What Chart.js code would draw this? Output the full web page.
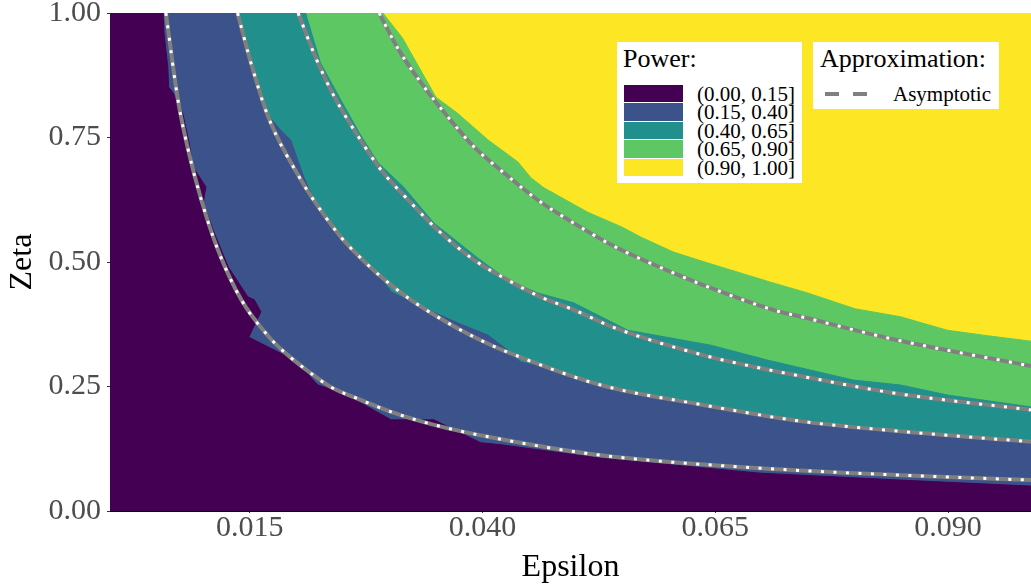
<!DOCTYPE html>
<html lang="en">
<head>
<meta charset="utf-8">
<title>Power by Epsilon and Zeta</title>
<script src="https://cdn.jsdelivr.net/npm/chart.js@4.4.1/dist/chart.umd.min.js"></script>
<style>
  html, body { margin: 0; padding: 0; background: #fff; }
  #wrap { position: relative; width: 1031px; height: 584px; }
  canvas { display: block; }
  .box { position: absolute; background: #fff; font-family: "Liberation Serif", "Times New Roman", serif; color: #000; }
  .box .ttl { position: absolute; left: 6px; top: 4px; font-size: 26px; line-height: 26px; white-space: nowrap; }
  .key { position: absolute; left: 7px; width: 59px; height: 17.4px; }
  .lbl { position: absolute; left: 80px; font-size: 21px; line-height: 18.4px; white-space: nowrap; }
  #powerBox { left: 617px; top: 42px; width: 185px; height: 141px; }
  #approxBox { left: 813px; top: 42px; width: 186px; height: 67px; }
  .dash { position: absolute; left: 12px; top: 50px; width: 42px; height: 3.5px;
          background: repeating-linear-gradient(to right, #808080 0 14px, transparent 14px 28px); }
</style>
</head>
<body>
<div id="wrap">
  <canvas id="chart"></canvas>
  <div class="box" id="powerBox"><div class="ttl">Power:</div></div>
  <div class="box" id="approxBox">
    <div class="ttl" style="left:7px">Approximation:</div>
    <div class="dash"></div>
    <div class="lbl" style="top:43px">Asymptotic</div>
  </div>
</div>
<script>
// ---- data: [epsilon, zeta] ----
const xTicks = [0.015, 0.040, 0.065, 0.090];
const yTicks = [0, 0.25, 0.5, 0.75, 1];
const powerLabels = ["(0.00, 0.15]", "(0.15, 0.40]", "(0.40, 0.65]", "(0.65, 0.90]", "(0.90, 1.00]"];
const powerColors = ["#440154", "#3B528B", "#21908C", "#5DC863", "#FDE725"];

// upper edge of each filled band (band below the edge gets the colour)
const band015 = [[0, 1], [0.0057, 1], [0.0058, 0.960], [0.0062, 0.892], [0.0063, 0.851], [0.0068, 0.839],
  [0.0078, 0.799], [0.0085, 0.739], [0.0089, 0.691], [0.0103, 0.651], [0.0100, 0.618], [0.0112, 0.558],
  [0.0127, 0.490], [0.0148, 0.430], [0.0155, 0.424], [0.0162, 0.400], [0.0149, 0.349], [0.0183, 0.317],
  [0.0202, 0.297], [0.0223, 0.253], [0.0248, 0.239], [0.0277, 0.209], [0.0302, 0.183], [0.0348, 0.183],
  [0.0398, 0.137], [0.0420, 0.133], [0.0527, 0.106], [0.0698, 0.076], [0.0849, 0.062], [0.0989, 0.050]];
const band040 = [[0, 1], [0.0138, 1], [0.0150, 0.905], [0.0165, 0.805], [0.0183, 0.765], [0.0194, 0.745],
  [0.0208, 0.671], [0.0219, 0.625], [0.0237, 0.574], [0.0259, 0.530], [0.0288, 0.474], [0.0302, 0.440],
  [0.0337, 0.408], [0.0373, 0.378], [0.0406, 0.353], [0.0427, 0.323], [0.0441, 0.299], [0.0467, 0.289],
  [0.0527, 0.249], [0.0637, 0.209], [0.0698, 0.193], [0.0849, 0.157], [0.0989, 0.137]];
const band065 = [[0, 1], [0.0210, 1], [0.0226, 0.900], [0.0248, 0.825], [0.0269, 0.755], [0.0288, 0.699],
  [0.0315, 0.651], [0.0348, 0.578], [0.0395, 0.508], [0.0427, 0.464], [0.0459, 0.438], [0.0498, 0.418],
  [0.0556, 0.363], [0.0645, 0.333], [0.0706, 0.303], [0.0798, 0.263], [0.0849, 0.253], [0.0899, 0.233],
  [0.0989, 0.209]];
const band090 = [[0, 1], [0.0293, 1], [0.0314, 0.950], [0.0350, 0.831], [0.0373, 0.799], [0.0406, 0.745],
  [0.0438, 0.701], [0.0452, 0.669], [0.0466, 0.649], [0.0513, 0.600], [0.0550, 0.570], [0.0570, 0.550],
  [0.0605, 0.520], [0.0642, 0.498], [0.0712, 0.458], [0.0749, 0.438], [0.0800, 0.406], [0.0849, 0.390],
  [0.0899, 0.363], [0.0938, 0.353], [0.0989, 0.341]];

// asymptotic approximation curves
const asym015 = [[0.0060, 1], [0.0073, 0.825], [0.0084, 0.725], [0.0098, 0.625], [0.0116, 0.524],
  [0.0141, 0.424], [0.0170, 0.351], [0.0191, 0.313], [0.0214, 0.279], [0.0237, 0.249], [0.0264, 0.227],
  [0.0305, 0.197], [0.0348, 0.173], [0.0406, 0.149], [0.0527, 0.112], [0.0698, 0.086], [0.0849, 0.072],
  [0.0989, 0.062]];
const asym040 = [[0.0137, 1], [0.0151, 0.902], [0.0170, 0.791], [0.0205, 0.665], [0.0221, 0.618],
  [0.0248, 0.550], [0.0277, 0.494], [0.0299, 0.458], [0.0323, 0.424], [0.0348, 0.394], [0.0373, 0.367],
  [0.0398, 0.343], [0.0427, 0.319], [0.0527, 0.253], [0.0637, 0.213], [0.0747, 0.179], [0.0855, 0.159],
  [0.0989, 0.139]];
const asym065 = [[0.0202, 1], [0.0221, 0.910], [0.0240, 0.835], [0.0269, 0.745], [0.0291, 0.685],
  [0.0320, 0.625], [0.0352, 0.564], [0.0391, 0.504], [0.0427, 0.464], [0.0462, 0.430], [0.0498, 0.404],
  [0.0543, 0.367], [0.0637, 0.313], [0.0698, 0.287], [0.0747, 0.269], [0.0841, 0.237], [0.0989, 0.203]];
const asym090 = [[0.0289, 1], [0.0310, 0.926], [0.0336, 0.855], [0.0363, 0.791], [0.0391, 0.731],
  [0.0423, 0.679], [0.0459, 0.625], [0.0498, 0.578], [0.0545, 0.528], [0.0605, 0.478], [0.0642, 0.450],
  [0.0712, 0.404], [0.0747, 0.388], [0.0841, 0.345], [0.0989, 0.291]];

const SERIF = '"Liberation Serif", "Times New Roman", serif';
const pts = arr => arr.map(([x, y]) => ({ x, y }));

function bandDataset(points, color, order) {
  return {
    data: pts(points), fill: "start", backgroundColor: color,
    borderColor: color, borderWidth: 1, pointRadius: 0, tension: 0, order, clip: 0,
  };
}

function asymDatasets(points) {
  return [
    { data: pts(points), borderColor: "#808080", borderWidth: 4, pointRadius: 0, fill: false,
      cubicInterpolationMode: "monotone", order: 2, clip: 0 },
    { data: pts(points), borderColor: "#ffffff", borderWidth: 3, borderDash: [3, 9.5], pointRadius: 0,
      fill: false, cubicInterpolationMode: "monotone", order: 1, clip: 0 },
  ];
}

// yellow top band = plot background
const areaFill = {
  id: "areaFill",
  beforeDatasetsDraw(chart) {
    const { ctx, chartArea: a } = chart;
    ctx.save();
    ctx.fillStyle = powerColors[4];
    ctx.fillRect(a.left, a.top, a.width, a.height);
    ctx.restore();
  },
};

new Chart(document.getElementById("chart"), {
  type: "line",
  data: {
    datasets: [
      bandDataset(band090, powerColors[3], 9),
      bandDataset(band065, powerColors[2], 8),
      bandDataset(band040, powerColors[1], 7),
      bandDataset(band015, powerColors[0], 6),
      ...asymDatasets(asym015),
      ...asymDatasets(asym040),
      ...asymDatasets(asym065),
      ...asymDatasets(asym090),
    ],
  },
  options: {
    responsive: true,
    maintainAspectRatio: false,
    animation: false,
    events: [],
    layout: { padding: { top: 13, left: 0, right: 0, bottom: 0 } },
    plugins: { legend: { display: false }, tooltip: { enabled: false } },
    scales: {
      x: {
        type: "linear", min: 0, max: 0.0989,
        afterBuildTicks: s => { s.ticks = xTicks.map(v => ({ value: v })); },
        afterFit: s => { s.height = 73; s.paddingLeft = 0; s.paddingRight = 0; },
        grid: { drawOnChartArea: false, tickLength: 2, color: "#333" },
        border: { display: true, color: "#000", width: 1 },
        ticks: { color: "#4d4d4d", padding: 0, maxRotation: 0, font: { family: SERIF, size: 30, lineHeight: 1 },
                 callback: v => Number(v).toFixed(3) },
        title: { display: true, text: "Epsilon", color: "#000", padding: 0,
                 font: { family: SERIF, size: 32, lineHeight: 1.05 } },
      },
      y: {
        type: "linear", min: 0, max: 1,
        afterBuildTicks: s => { s.ticks = yTicks.map(v => ({ value: v })); },
        afterFit: s => { s.width = 110; s.paddingTop = 0; s.paddingBottom = 0; },
        grid: { drawOnChartArea: false, tickLength: 3, color: "#333" },
        border: { display: true, color: "#000", width: 1 },
        ticks: { color: "#4d4d4d", padding: 6, font: { family: SERIF, size: 30, lineHeight: 1 },
                 callback: v => Number(v).toFixed(2) },
        title: { display: true, text: "Zeta", color: "#000", padding: 0,
                 font: { family: SERIF, size: 32, lineHeight: 1.4 } },
      },
    },
  },
  plugins: [areaFill],
});

// ---- legend boxes ----
const powerBox = document.getElementById("powerBox");
powerLabels.forEach((label, i) => {
  const key = document.createElement("div");
  key.className = "key";
  key.style.top = (43 + i * 18.4) + "px";
  key.style.background = powerColors[i];
  const lbl = document.createElement("div");
  lbl.className = "lbl";
  lbl.style.top = (43 + i * 18.4) + "px";
  lbl.textContent = label;
  powerBox.appendChild(key);
  powerBox.appendChild(lbl);
});
</script>
</body>
</html>
